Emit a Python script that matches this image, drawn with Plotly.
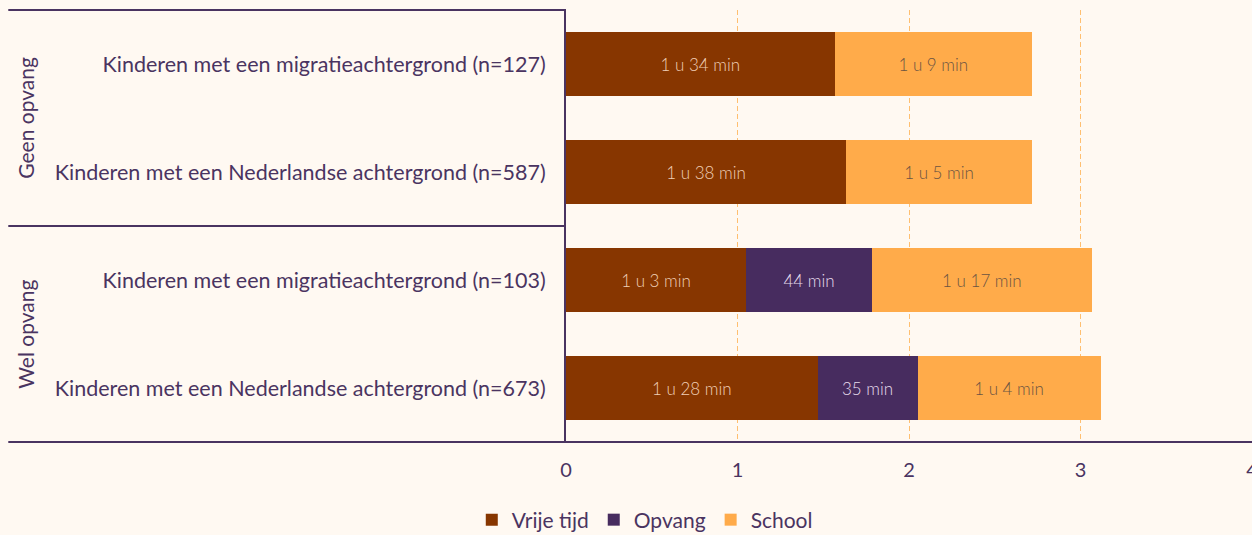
import plotly.graph_objects as go

# minutes per day
categories = [
    "Kinderen met een migratieachtergrond (n=127)",
    "Kinderen met een Nederlandse achtergrond (n=587)",
    "Kinderen met een migratieachtergrond (n=103)",
    "Kinderen met een Nederlandse achtergrond (n=673)",
]
vrije_tijd = [94, 98, 63, 88]
opvang = [0, 0, 44, 35]
school = [69, 65, 77, 64]
groups = ["Geen opvang", "Wel opvang"]
x_ticks = [0, 1, 2, 3, 4]

INK = "#4a3461"
BG = "#fff9f2"


def fmt(m):
    if m == 0:
        return ""
    h, mm = divmod(m, 60)
    return f"{h} u {mm} min" if h else f"{mm} min"


series = [
    ("Vrije tijd", vrije_tijd, "#873600", "#f0cfb6"),
    ("Opvang", opvang, "#472c5f", "#e6dcec"),
    ("School", school, "#ffab4a", "#6b5442"),
]

fig = go.Figure()
for name, mins, color, tcolor in series:
    fig.add_trace(
        go.Bar(
            y=categories,
            x=[m / 60 for m in mins],
            name=name,
            orientation="h",
            marker=dict(color=color, line=dict(width=0)),
            text=[fmt(m) for m in mins],
            textposition="inside",
            insidetextanchor="middle",
            textangle=0,
            textfont=dict(family="Lato", size=17, color=tcolor, weight=300),
            hovertemplate="%{y}<br>%{text}<extra>" + name + "</extra>",
        )
    )

fig.update_layout(
    barmode="stack",
    bargap=0.4,
    width=1252,
    height=535,
    paper_bgcolor=BG,
    plot_bgcolor=BG,
    font=dict(family="Lato", color=INK, size=21),
    margin=dict(l=566, r=0, t=10, b=93, autoexpand=False),
    legend=dict(
        orientation="h",
        xref="container",
        x=0.515,
        xanchor="center",
        yref="container",
        y=0.028,
        yanchor="middle",
        font=dict(size=21),
        itemwidth=30,
        traceorder="normal",
    ),
    xaxis=dict(
        range=[0, 4],
        tickvals=x_ticks,
        showgrid=True,
        gridcolor="#ffbf70",
        griddash="5px,3px",
        gridwidth=1,
        zeroline=False,
        showline=False,
        ticks="",
        tickfont=dict(size=20),
        ticklabelstandoff=14,
        ticklabeloverflow="allow",
        automargin=False,
    ),
    yaxis=dict(
        autorange="reversed",
        showline=True,
        linecolor=INK,
        linewidth=2,
        ticks="",
        ticklabelstandoff=14,
        tickfont=dict(size=21.5),
        showgrid=False,
        automargin=False,
    ),
)

# separator lines across the label column (top, middle) and the full-width base line
for yy, x1 in [(1.0, 0), (0.5, 0), (0.0, 1.0)]:
    fig.add_shape(
        type="line", xref="paper", yref="paper",
        x0=-0.813, x1=x1, y0=yy, y1=yy,
        line=dict(color=INK, width=2),
    )

for i, g in enumerate(groups):
    fig.add_annotation(
        text=g, xref="paper", yref="paper",
        x=-0.789, y=0.75 - 0.5 * i,
        xanchor="center", yanchor="middle",
        textangle=-90, showarrow=False,
        font=dict(size=21, color=INK),
    )

fig.write_html(
    "out.html",
    config={"displayModeBar": False},
    post_script=f"document.body.style.margin='0';document.body.style.background='{BG}';",
)
